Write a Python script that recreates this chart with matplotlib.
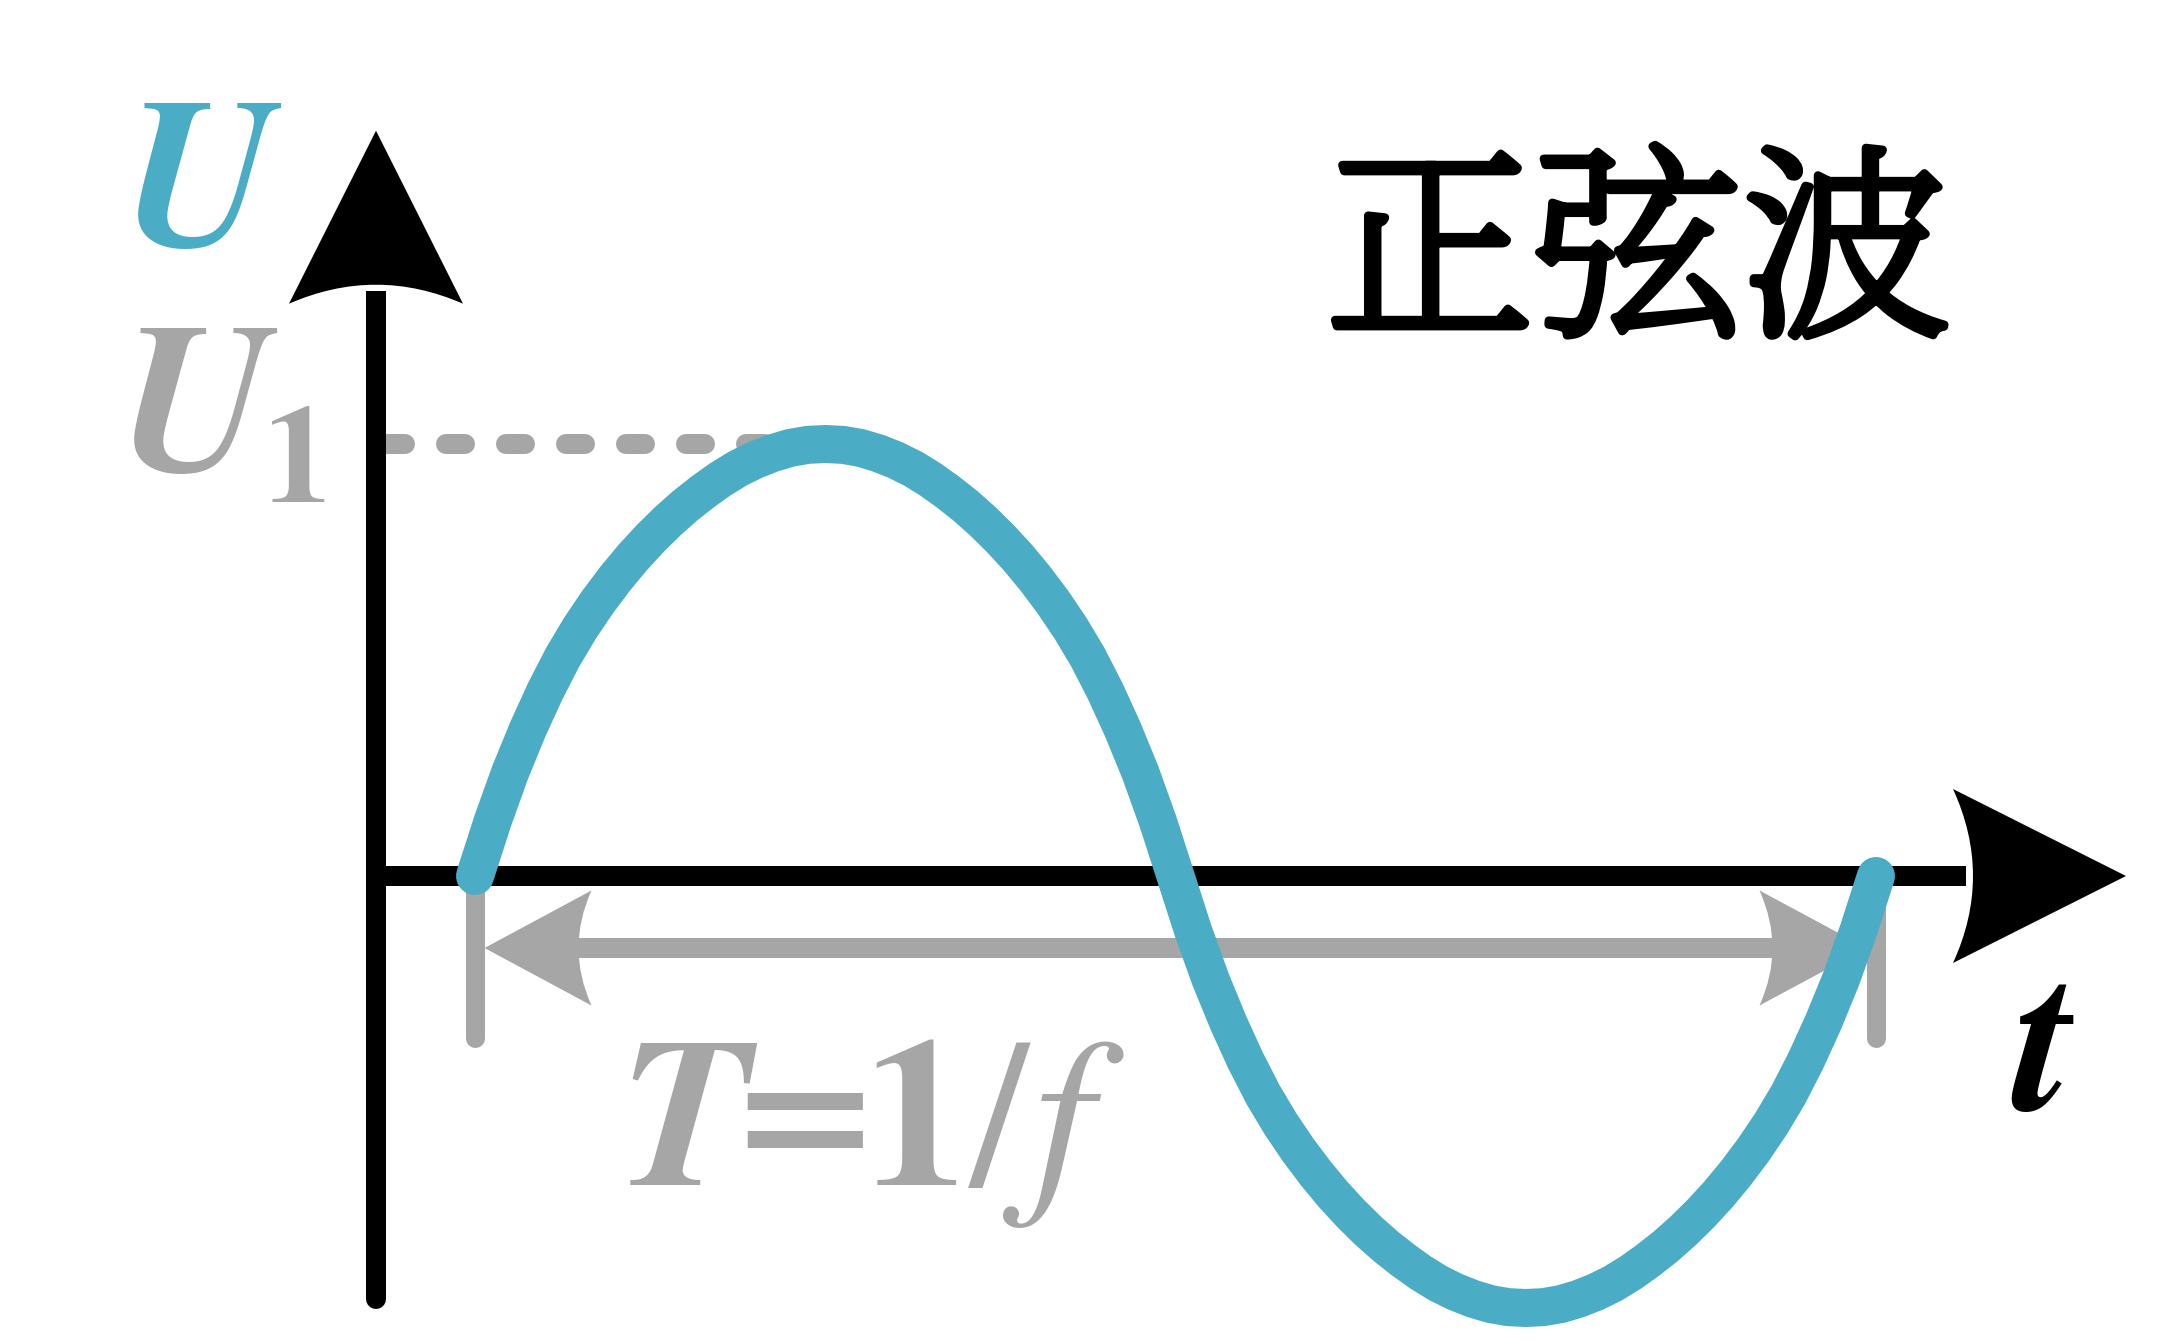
import numpy as np
import matplotlib
matplotlib.use("Agg")
import matplotlib.pyplot as plt
from matplotlib.path import Path
from matplotlib.patches import PathPatch
import matplotlib.patheffects as pe

# ---------------- data ----------------
period_T = 1.0            # T = 1/f
amplitude_U1 = 1.0        # U1 (peak value)
# one quarter of the wave, from the zero crossing to the crest (t in units of T, U in units of U1)
quarter_t = [0.0, 0.0125, 0.025, 0.0375, 0.05, 0.0625, 0.075, 0.0875, 0.1, 0.1125, 0.125,
             0.1375, 0.15, 0.1625, 0.175, 0.1875, 0.2, 0.2125, 0.225, 0.2375, 0.25]
quarter_u = [0.0, 0.126, 0.239, 0.338, 0.427, 0.506, 0.574, 0.634, 0.688, 0.737, 0.781,
             0.821, 0.857, 0.889, 0.918, 0.943, 0.963, 0.979, 0.991, 0.998, 1.0]

axis_label_u = "U"
axis_label_t = "t"
peak_label = "U"
peak_label_sub = "1"
period_label_parts = ["T", "=", "1", "/", "f"]
title_text = "正弦波"

# full period built from the quarter by symmetry
q_t = np.array(quarter_t) * period_T
q_u = np.array(quarter_u) * amplitude_U1
wave_t = np.concatenate([q_t, period_T / 2 - q_t[::-1][1:],
                         period_T / 2 + q_t[1:], period_T - q_t[::-1][1:]])
wave_u = np.concatenate([q_u, q_u[::-1][1:], -q_u[1:], -q_u[::-1][1:]])

# ---------------- style / layout ----------------
TEAL = "#4BACC6"
GRAY = "#A6A6A6"
BLACK = "#000000"
W, H = 2180, 1340
DPI = 100
PX = 72.0 / DPI           # points per pixel

X0_PX, Y0_PX = 475.0, 876.0     # pixel position of (t=0, U=0)
PX_PER_T, PX_PER_U = 1401.0, 432.0

def dt(px):
    return px / PX_PER_T

def du(px):
    return px / PX_PER_U

def t_of(px_x):
    return (px_x - X0_PX) / PX_PER_T

def u_of(px_y):
    return (Y0_PX - px_y) / PX_PER_U

plt.rcParams["lines.scale_dashes"] = False
fig = plt.figure(figsize=(W / DPI, H / DPI), dpi=DPI)
ax = fig.add_axes([0, 0, 1, 1])
ax.set_xlim(t_of(0), t_of(W))
ax.set_ylim(u_of(H), u_of(0))
ax.axis("off")


def arrowhead(tip_t, tip_u, direction, length_px, half_px, depth_px, color, z):
    if direction == "up":
        a, b = (0, 1), (1, 0)
    elif direction == "right":
        a, b = (1, 0), (0, 1)
    elif direction == "left":
        a, b = (-1, 0), (0, 1)
    else:
        a, b = (0, -1), (1, 0)

    def pt(along, across):
        px_x = along * a[0] + across * b[0]
        px_y = along * a[1] + across * b[1]
        return (tip_t + dt(px_x), tip_u + du(px_y))

    verts = [pt(0, 0), pt(-length_px, half_px),
             pt(-length_px + 2 * depth_px, 0), pt(-length_px, -half_px),
             pt(0, 0), pt(0, 0)]
    codes = [Path.MOVETO, Path.LINETO, Path.CURVE3, Path.CURVE3,
             Path.LINETO, Path.CLOSEPOLY]
    ax.add_patch(PathPatch(Path(verts, codes), facecolor=color,
                           edgecolor="none", zorder=z))


# ---- period bracket (gray) ----
tick_bottom_u = u_of(1038)
arrow_u = u_of(948)
for tt in (0.0, period_T):
    ax.plot([tt, tt], [0.0, tick_bottom_u], color=GRAY, lw=19 * PX,
            solid_capstyle="round", zorder=1)
left_tip = 0.0 + dt(9.5)
right_tip = period_T - dt(9.5)
ax.plot([left_tip + dt(60), right_tip - dt(60)], [arrow_u, arrow_u],
        color=GRAY, lw=20 * PX, solid_capstyle="butt", zorder=1)
arrowhead(left_tip, arrow_u, "left", 107, 57.5, 13, GRAY, 1)
arrowhead(right_tip, arrow_u, "right", 107, 57.5, 13, GRAY, 1)

# ---- dotted U1 level ----
yaxis_t = t_of(376)
ax.plot([yaxis_t + dt(10), period_T / 4], [amplitude_U1, amplitude_U1],
        color=GRAY, lw=20 * PX, dashes=(19 * PX, 41 * PX),
        dash_capstyle="round", zorder=2)

# ---- axes (black) ----
y_tip_u = u_of(130.7)
ax.plot([yaxis_t, yaxis_t], [u_of(1299), u_of(700)], color=BLACK,
        lw=20 * PX, solid_capstyle="round", zorder=3)
ax.plot([yaxis_t, yaxis_t], [u_of(800), y_tip_u - du(160)], color=BLACK,
        lw=20 * PX, solid_capstyle="butt", zorder=3)
arrowhead(yaxis_t, y_tip_u, "up", 173, 87, 19, BLACK, 3)

x_tip_t = t_of(2126)
ax.plot([yaxis_t, x_tip_t - dt(160)], [0.0, 0.0], color=BLACK,
        lw=20 * PX, solid_capstyle="butt", zorder=3)
arrowhead(x_tip_t, 0.0, "right", 173, 87, 20, BLACK, 3)

# ---- wave ----
ax.plot(wave_t, wave_u, color=TEAL, lw=38 * PX, solid_capstyle="round",
        solid_joinstyle="round", zorder=4)

# ---- texts ----
SERIF = ["STIXGeneral", "Liberation Serif"]
big = 152
ax.text(t_of(200), u_of(245), axis_label_u, color=TEAL, fontsize=big,
        family=SERIF, weight="bold", style="italic", ha="center", va="baseline")
ax.text(t_of(196), u_of(470), peak_label, color=GRAY, fontsize=big,
        family=SERIF, weight="bold", style="italic", ha="center", va="baseline")
ax.text(t_of(298), u_of(502), peak_label_sub, color=GRAY, fontsize=100,
        family=SERIF, weight="bold", ha="center", va="baseline")
ax.text(t_of(2043), u_of(1110), axis_label_t, color=BLACK, fontsize=big,
        family=SERIF, weight="bold", style="italic", ha="center", va="baseline")

part_x = [684, 805, 915, 999, 1062]
part_base = [1185, 1168, 1185, 1185, 1185]
part_size = [big, 135, big, big, big]
part_weight = ["bold", "bold", "bold", "normal", "normal"]
part_style = ["italic", "normal", "normal", "normal", "italic"]
for txt, px_x, py, fs, wgt, sty in zip(period_label_parts, part_x, part_base,
                                      part_size, part_weight, part_style):
    ax.text(t_of(px_x), u_of(py), txt, color=GRAY, fontsize=fs,
            family=SERIF, weight=wgt, style=sty, ha="center", va="baseline")

ax.text(t_of(1638), u_of(264), title_text, color=BLACK, fontsize=150,
        family=["Noto Serif SC", "Noto Sans CJK SC", "DejaVu Sans"],
        ha="center", va="center",
        path_effects=[pe.withStroke(linewidth=6, foreground=BLACK)])

fig.savefig("out.png", dpi=DPI, facecolor="white")
